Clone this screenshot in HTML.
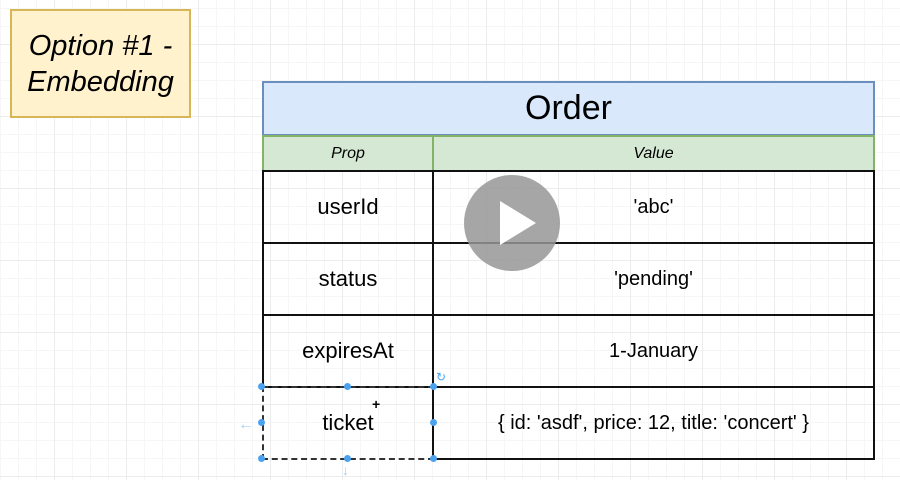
<!DOCTYPE html>
<html><head><style>
body{margin:0;width:900px;height:480px;overflow:hidden;background:#fff;font-family:"Liberation Sans",sans-serif;position:relative;
background-image:linear-gradient(#ececec 1px,transparent 1px),linear-gradient(90deg,#ececec 1px,transparent 1px),linear-gradient(#f6f6f6 1px,transparent 1px),linear-gradient(90deg,#f6f6f6 1px,transparent 1px);
background-size:72px 72px,72px 72px,18px 18px,18px 18px;background-position:0 44px,-18px 0,0 8px,0 0;}
.a{position:absolute;box-sizing:border-box;display:flex;align-items:center;justify-content:center;}
.d{position:absolute;width:7px;height:7px;border-radius:50%;background:#4ba3f0;}
</style></head><body>
<div class="a" style="left:10px;top:9px;width:181px;height:109px;background:#fff2cc;border:2px solid #d6b656;font-style:italic;font-size:29px;line-height:36px;text-align:center;">Option #1 -<br>Embedding</div>
<div class="a" style="left:262px;top:81px;width:613px;height:55px;background:#dae8fc;border:2px solid #6c8ebf;font-size:34px;">Order</div>
<div class="a" style="left:262px;top:135px;width:172px;height:37px;background:#d5e8d4;border:2px solid #82b366;font-style:italic;font-size:16px;">Prop</div>
<div class="a" style="left:432px;top:135px;width:443px;height:37px;background:#d5e8d4;border:2px solid #82b366;font-style:italic;font-size:16px;">Value</div>
<div class="a" style="left:262px;top:170px;width:172px;height:74px;border:2px solid #111;font-size:22px;">userId</div>
<div class="a" style="left:432px;top:170px;width:443px;height:74px;border:2px solid #111;font-size:20px;">'abc'</div>
<div class="a" style="left:262px;top:242px;width:172px;height:74px;border:2px solid #111;font-size:22px;">status</div>
<div class="a" style="left:432px;top:242px;width:443px;height:74px;border:2px solid #111;font-size:20px;">'pending'</div>
<div class="a" style="left:262px;top:314px;width:172px;height:74px;border:2px solid #111;font-size:22px;">expiresAt</div>
<div class="a" style="left:432px;top:314px;width:443px;height:74px;border:2px solid #111;font-size:20px;">1-January</div>
<div class="a" style="left:262px;top:386px;width:172px;height:74px;border:2px dashed #333;font-size:22px;">ticket</div>
<div class="a" style="left:432px;top:386px;width:443px;height:74px;border:2px solid #111;font-size:20px;">{ id: 'asdf', price: 12, title: 'concert' }</div>
<div class="d" style="left:258px;top:383px"></div><div class="d" style="left:344px;top:383px"></div><div class="d" style="left:430px;top:383px"></div>
<div class="d" style="left:258px;top:419px"></div><div class="d" style="left:430px;top:419px"></div>
<div class="d" style="left:258px;top:455px"></div><div class="d" style="left:344px;top:455px"></div><div class="d" style="left:430px;top:455px"></div>
<div style="position:absolute;left:238px;top:416px;color:#a8d0f5;font-size:16px;">←</div>
<div style="position:absolute;left:342px;top:462px;color:#a8d0f5;font-size:14px;">↓</div>
<div style="position:absolute;left:436px;top:370px;color:#4ba3f0;font-size:12px;">↻</div>
<div style="position:absolute;left:372px;top:396px;font-size:14px;font-weight:bold;">+</div>
<svg style="position:absolute;left:463px;top:174px" width="98" height="98"><circle cx="49" cy="49" r="48" fill="rgba(150,150,150,0.85)"/><polygon points="37,27 37,71 73,49" fill="#fff"/></svg>
</body></html>
